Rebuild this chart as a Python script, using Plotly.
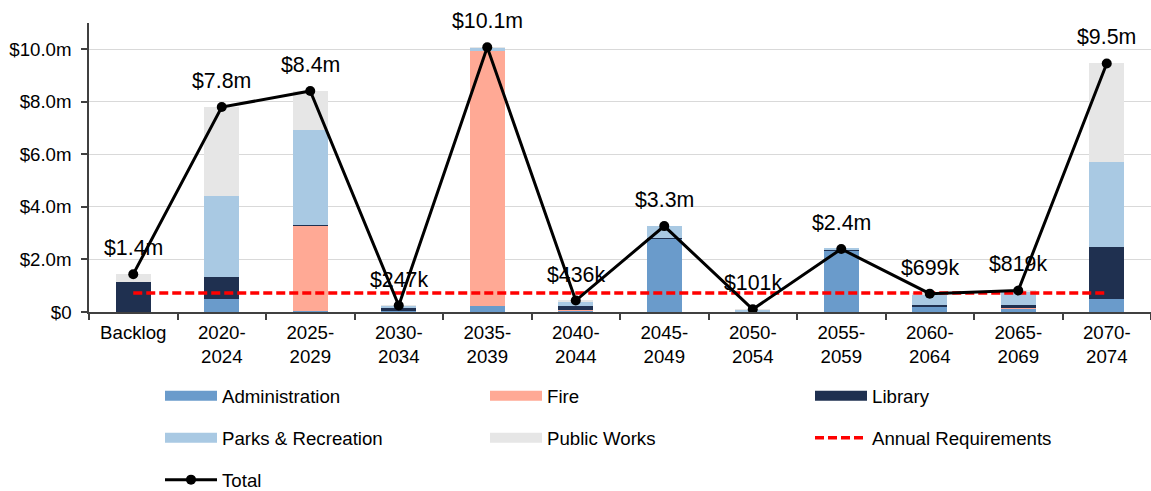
import plotly.graph_objects as go

# Planning periods on the x axis
periods = ["Backlog", "2020-<br>2024", "2025-<br>2029", "2030-<br>2034", "2035-<br>2039",
           "2040-<br>2044", "2045-<br>2049", "2050-<br>2054", "2055-<br>2059",
           "2060-<br>2064", "2065-<br>2069", "2070-<br>2074"]

# Replacement cost by department, $ millions
administration = [0.00, 0.49, 0.02, 0.03, 0.23, 0.07, 2.78, 0.01, 2.34, 0.20, 0.12, 0.49]
fire = [0.00, 0.00, 3.28, 0.00, 9.69, 0.02, 0.00, 0.01, 0.00, 0.00, 0.07, 0.00]
library = [1.15, 0.85, 0.01, 0.15, 0.00, 0.12, 0.04, 0.00, 0.03, 0.07, 0.06, 1.97]
parks_recreation = [0.00, 3.07, 3.62, 0.05, 0.13, 0.18, 0.45, 0.07, 0.03, 0.40, 0.54, 3.24]
public_works = [0.29, 3.39, 1.48, 0.017, 0.03, 0.046, 0.00, 0.011, 0.00, 0.029, 0.029, 3.76]

# Average annual requirement, $ millions
annual_requirement = 0.72

# Y axis ticks
y_tickvals = [0, 2, 4, 6, 8, 10]
y_ticktext = ["$0", "$2.0m", "$4.0m", "$6.0m", "$8.0m", "$10.0m"]

series = [
    ("Administration", administration, "#6A9BCB"),
    ("Fire", fire, "#FFA995"),
    ("Library", library, "#1F3050"),
    ("Parks & Recreation", parks_recreation, "#A9C9E3"),
    ("Public Works", public_works, "#E6E6E6"),
]

totals = [sum(vals) for vals in zip(administration, fire, library, parks_recreation, public_works)]


def money(v):
    if v < 1:
        return f"${round(v * 1000)}k"
    return f"${v:.1f}m"


FONT = "Liberation Sans, Arial, sans-serif"
fig = go.Figure()

legend_of = {
    "Administration": "legend", "Fire": "legend", "Library": "legend",
    "Parks & Recreation": "legend2", "Public Works": "legend2",
    "Annual Requirements": "legend2", "Total": "legend3",
}

for name, vals, color in series:
    fig.add_trace(go.Bar(
        x=periods, y=vals, name=name, marker=dict(color=color, line=dict(width=0)),
        showlegend=False, legendgroup=name,
    ))

fig.add_trace(go.Scatter(
    x=periods, y=[annual_requirement] * len(periods), mode="lines",
    name="Annual Requirements", line=dict(color="#FF0000", width=3.5, dash="9px,4px"),
    showlegend=False, legendgroup="Annual Requirements",
))

fig.add_trace(go.Scatter(
    x=periods, y=totals, mode="lines+markers", name="Total",
    line=dict(color="#000000", width=3), marker=dict(size=10, color="#000000"),
    showlegend=False, legendgroup="Total",
))

# Legend swatches: wide bands for the departments, lines for the others
for name, _, color in series:
    fig.add_trace(go.Scatter(
        x=[None], y=[None], mode="lines", name=name, legendgroup=name,
        line=dict(color=color, width=11), legend=legend_of[name],
    ))
fig.add_trace(go.Scatter(
    x=[None], y=[None], mode="lines", name="Annual Requirements",
    legendgroup="Annual Requirements",
    line=dict(color="#FF0000", width=3.5, dash="9px,4px"), legend="legend2",
))
fig.add_trace(go.Scatter(
    x=[None], y=[None], mode="lines+markers", name="Total", legendgroup="Total",
    line=dict(color="#000000", width=3), marker=dict(size=10, color="#000000"),
    legend="legend3",
))

for p, t in zip(periods, totals):
    fig.add_annotation(x=p, y=t, text=money(t), showarrow=False, yshift=26,
                       font=dict(family=FONT, size=21.33, color="#000000"))

legend_common = dict(
    orientation="h", xref="container", yref="container", xanchor="left",
    yanchor="middle", entrywidth=258, entrywidthmode="pixels", itemwidth=52,
    font=dict(family=FONT, size=18.67, color="#000000"), bgcolor="rgba(0,0,0,0)",
    traceorder="normal", tracegroupgap=0,
)

fig.update_layout(
    width=1151, height=491,
    margin=dict(l=89, r=0, t=23, b=179),
    paper_bgcolor="#FFFFFF", plot_bgcolor="#FFFFFF",
    barmode="stack", bargap=0.6,
    font=dict(family=FONT, size=18.67, color="#000000"),
    legend=dict(x=160 / 1151, y=1 - 396 / 491, **legend_common),
    legend2=dict(x=160 / 1151, y=1 - 438 / 491, **legend_common),
    legend3=dict(x=160 / 1151, y=1 - 480 / 491, **legend_common),
    xaxis=dict(
        type="category", range=[-0.5, len(periods) - 0.5],
        showgrid=False, showline=True, linecolor="#404040", linewidth=1.5,
        ticks="outside", ticklen=6, tickcolor="#404040", tickwidth=1.5,
        tickson="boundaries", ticklabelstandoff=3,
        tickfont=dict(family=FONT, size=18.67, color="#000000"),
    ),
    yaxis=dict(
        range=[0, 11], tickvals=y_tickvals, ticktext=y_ticktext,
        showgrid=True, gridcolor="#D9D9D9", gridwidth=1.3,
        showline=True, linecolor="#404040", linewidth=1.5,
        ticks="outside", ticklen=6, tickcolor="#404040", tickwidth=1.5,
        ticklabelstandoff=6,
        tickfont=dict(family=FONT, size=18.67, color="#000000"), zeroline=False,
    ),
)

fig.write_html("out.html")
